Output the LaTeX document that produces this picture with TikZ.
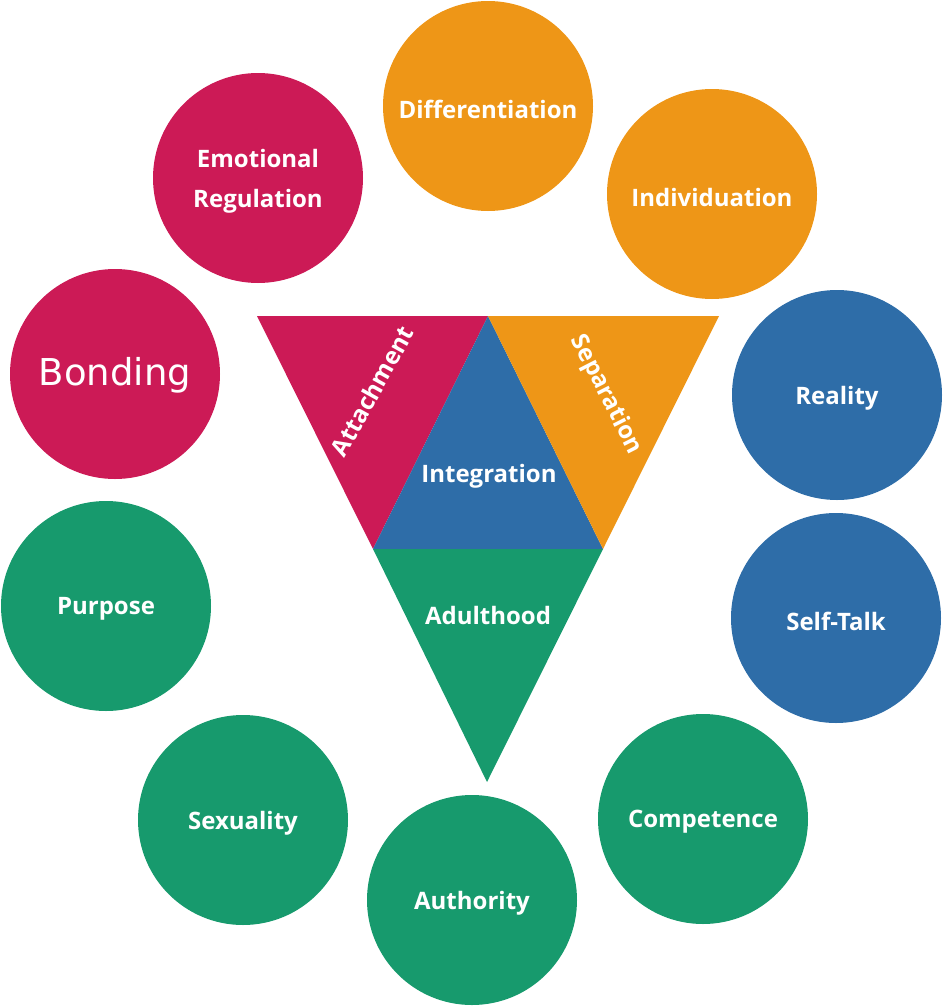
\documentclass[tikz,border=0pt]{standalone}
\usepackage{fontspec}
\setmainfont{Open Sans}
\newfontfamily\bondfont{DejaVu Sans}
\definecolor{crim}{HTML}{CC1A56}
\definecolor{oran}{HTML}{EE9617}
\definecolor{blu}{HTML}{2E6DA8}
\definecolor{grn}{HTML}{179A6D}
\tikzset{
  bub/.style={circle, minimum size=210pt, inner sep=0pt},
  lab/.style={text=white, font=\fontsize{24}{40}\selectfont\bfseries, align=center, yshift=-3pt},
}
\begin{document}
\begin{tikzpicture}[x=1pt,y=-1pt]
\useasboundingbox (0,0) rectangle (943,1007);
% circles
\node[bub, fill=oran] (diff) at (488,106) {};
\node[bub, fill=crim] (emo) at (258,178) {};
\node[bub, fill=oran] (ind) at (712,194) {};
\node[bub, fill=crim] (bond) at (115,374) {};
\node[bub, fill=blu] (real) at (837,395) {};
\node[bub, fill=grn] (purp) at (106,606) {};
\node[bub, fill=blu] (self) at (836,618) {};
\node[bub, fill=grn] (sex) at (243,820) {};
\node[bub, fill=grn] (comp) at (703,819) {};
\node[bub, fill=grn] (auth) at (472,900) {};
% labels
\node[lab] at (diff) {Differentiation};
\node[lab] at (emo) {Emotional\\Regulation};
\node[lab] at (ind) {Individuation};
\node[text=white, font=\bondfont\fontsize{37}{44}\selectfont, yshift=-1pt] at (bond) {Bonding};
\node[lab] at (real) {Reality};
\node[lab] at (purp) {Purpose};
\node[lab] at (self) {Self-Talk};
\node[lab] at (sex) {Sexuality};
\node[lab] at (comp) {Competence};
\node[lab] at (auth) {Authority};
% triangle
\coordinate (tl) at (257,316);
\coordinate (tm) at (488,316);
\coordinate (tr) at (719,316);
\coordinate (ml) at (373,549);
\coordinate (mr) at (603,549);
\coordinate (bt) at (487,782);
\fill[crim] (tl) -- (tm) -- (ml) -- cycle;
\fill[blu] (tm) -- (ml) -- (mr) -- cycle;
\fill[oran] (tm) -- (tr) -- (mr) -- cycle;
\fill[grn] (ml) -- (mr) -- (bt) -- cycle;
\node[lab] (integ) at (489,473) {Integration};
\node[lab] (adult) at (488,612) {Adulthood};
\node[lab, rotate=61, yshift=0pt] (att) at (372,388) {Attachment};
\node[lab, rotate=-63, yshift=0pt] (sep) at (606,392) {Separation};
\end{tikzpicture}
\end{document}
